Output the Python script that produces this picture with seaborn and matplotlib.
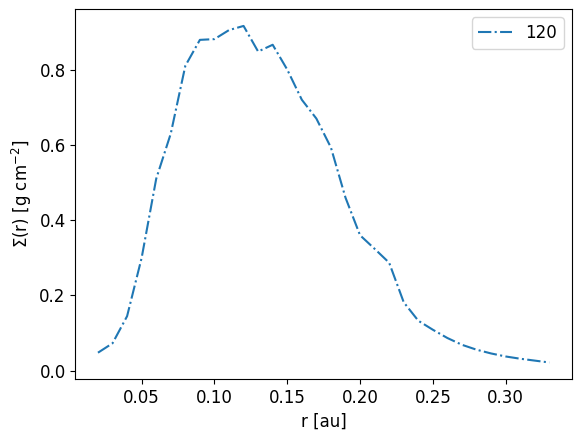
import numpy as np
import matplotlib
matplotlib.use("Agg")
import matplotlib.pyplot as plt
import seaborn as sns

# surface density profile, snapshot 120
r_au = [0.02, 0.03, 0.04, 0.05, 0.06, 0.07, 0.08, 0.09, 0.10, 0.11,
        0.12, 0.13, 0.14, 0.15, 0.16, 0.17, 0.18, 0.19, 0.20, 0.21,
        0.22, 0.23, 0.24, 0.25, 0.26, 0.27, 0.28, 0.29, 0.30, 0.31,
        0.32, 0.33]
sigma = [0.048, 0.073, 0.145, 0.30, 0.51, 0.63, 0.81, 0.879, 0.881, 0.905,
         0.916, 0.848, 0.866, 0.80, 0.72, 0.67, 0.593, 0.46, 0.36, 0.324,
         0.287, 0.182, 0.133, 0.109, 0.087, 0.069, 0.056, 0.046, 0.038, 0.032,
         0.027, 0.022]
snap_label = "120"

plt.rcParams['font.size'] = 12

fig = plt.figure(figsize=(5.8, 4.34), dpi=100)
ax = fig.add_axes([0.130, 0.126, 0.856, 0.853])
sns.lineplot(x=r_au, y=sigma, label=snap_label, linestyle='-.', color='tab:blue', ax=ax)
ax.set_xlabel('r [au]')
ax.set_ylabel(r'$\Sigma$(r) [g cm$^{-2}$]')
ax.legend(loc='upper right')

fig.savefig('out.png', dpi=100)
